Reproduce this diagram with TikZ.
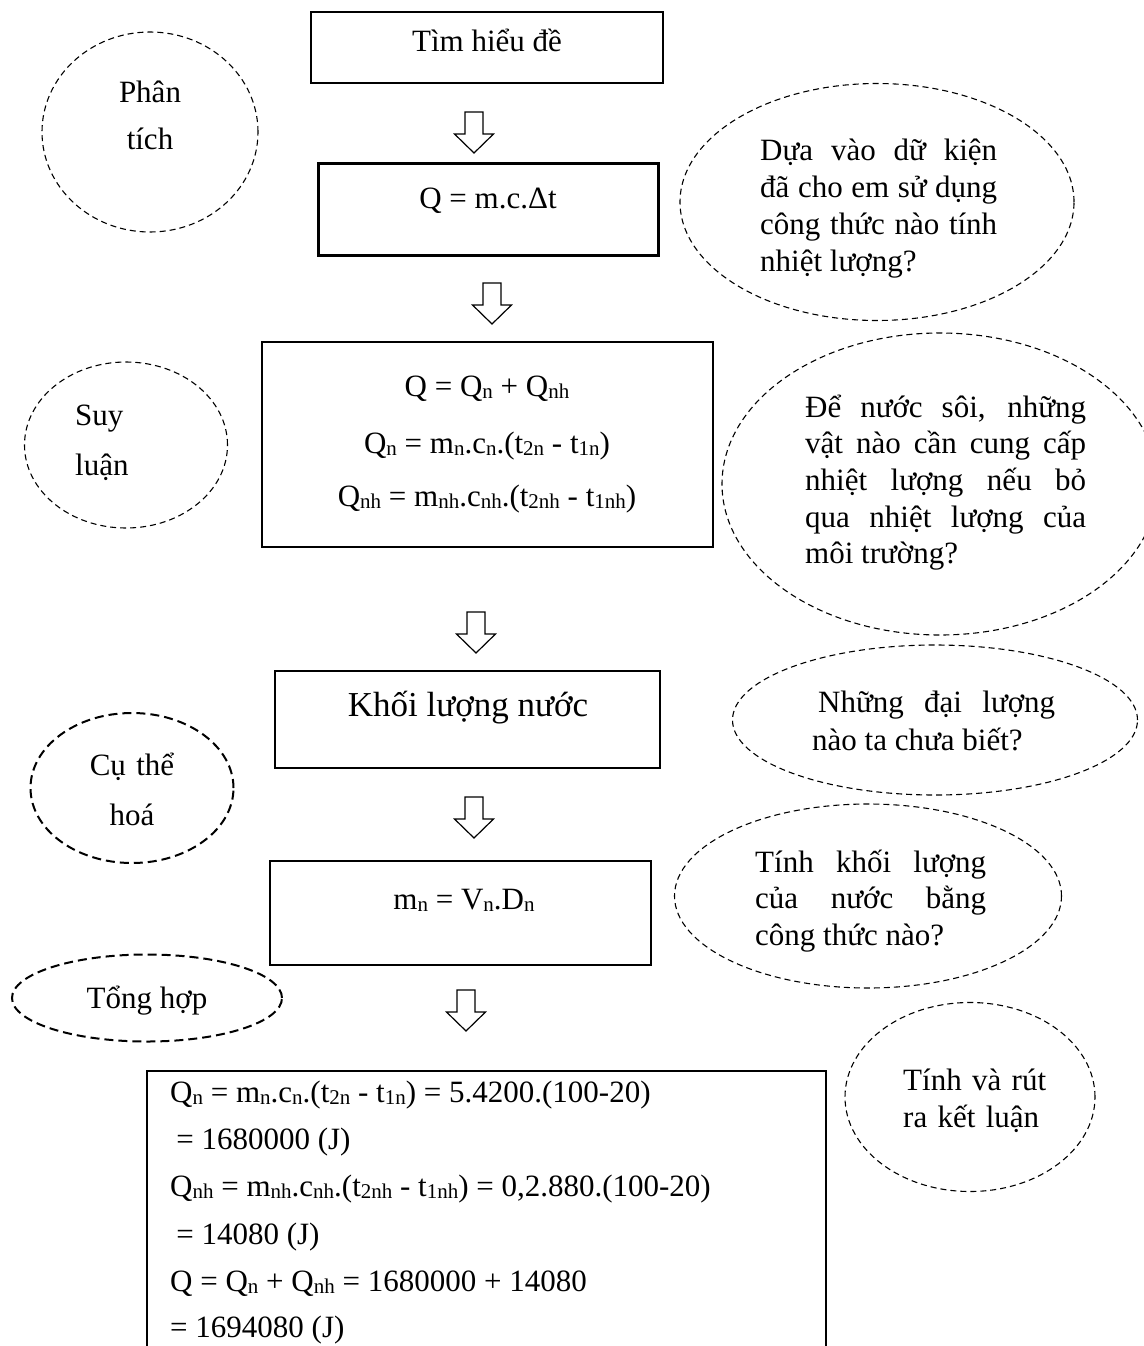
\documentclass[tikz,border=0pt]{standalone}
\usepackage{fontspec}
\setmainfont{Liberation Serif}
\usetikzlibrary{shapes.geometric}

% lowered small subscript, as typed in a word processor
\newcommand\lo[1]{\raisebox{-2.5pt}{\fontsize{21}{21}\selectfont #1}}
% fixes the height of the first line of a text block
\newcommand\firstline{\rule{0pt}{30pt}}
% hollow down arrow hanging from a named coordinate
\newcommand\hollowdown[1]{%
  \draw[hollow] (#1) ++(-9,0) -- ++(18,0) -- ++(0,22) -- ++(10.5,0)
    -- ++(-19.5,19) -- ++(-19.5,-19) -- ++(10.5,0) -- cycle;}

\tikzset{
  box/.style={draw, line width=1.3pt, inner sep=0pt},
  thickbox/.style={draw, line width=3pt, inner sep=0pt},
  bubble/.style={draw, ellipse, inner sep=0pt, line width=1.1pt,
    dash pattern=on 6pt off 4pt},
  boldbubble/.style={bubble, line width=2pt, dash pattern=on 9pt off 5pt},
  txt/.style={inner sep=0pt, font=\fontsize{31}{37}\selectfont},
  para/.style={txt, align=justify, anchor=north west},
  hollow/.style={draw, line width=1.2pt, fill=white, line join=miter},
}

\begin{document}
\begin{tikzpicture}[x=1pt, y=-1pt]
\tolerance=9999
\fill[white] (0,0) rectangle (1143,1346);
\useasboundingbox (0,0) rectangle (1143,1346);

% ---------- main column of boxes ----------
\node[box, minimum width=352, minimum height=71] (b1) at (487,47.5) {};
\node[txt, anchor=base] (t1) at (487,52) {Tìm hiểu đề};

\node[thickbox, minimum width=340, minimum height=92] (b2) at (488,209) {};
\node[txt, anchor=base] (t2) at (488,208) {Q = m.c.Δt};

\node[box, minimum width=451, minimum height=205] (b3) at (487.5,444.5) {};
\node[txt, anchor=base] (t3a) at (487,396) {Q = Q\lo{n} + Q\lo{nh}};
\node[txt, anchor=base] (t3b) at (487,453) {Q\lo{n} = m\lo{n}.c\lo{n}.(t\lo{2n} - t\lo{1n})};
\node[txt, anchor=base] (t3c) at (487,506) {Q\lo{nh} = m\lo{nh}.c\lo{nh}.(t\lo{2nh} - t\lo{1nh})};

\node[box, minimum width=385, minimum height=97] (b4) at (467.5,719.5) {};
\node[txt, anchor=base, font=\fontsize{35}{40}\selectfont] (t4) at (468,716) {Khối lượng nước};

\node[box, minimum width=381, minimum height=104] (b5) at (460.5,913) {};
\node[txt, anchor=base] (t5) at (464,909) {m\lo{n} = V\lo{n}.D\lo{n}};

% last box runs past the lower edge of the page
\node[box, minimum width=679, minimum height=340] (b6) at (486.5,1241) {};
\node[txt, anchor=base west] (t6a) at (170,1102) {Q\lo{n} = m\lo{n}.c\lo{n}.(t\lo{2n} - t\lo{1n}) = 5.4200.(100-20)};
\node[txt, anchor=base west] (t6b) at (170,1149) {\hspace*{0.2em}= 1680000 (J)};
\node[txt, anchor=base west] (t6c) at (170,1196) {Q\lo{nh} = m\lo{nh}.c\lo{nh}.(t\lo{2nh} - t\lo{1nh}) = 0,2.880.(100-20)};
\node[txt, anchor=base west] (t6d) at (170,1244) {\hspace*{0.2em}= 14080 (J)};
\node[txt, anchor=base west] (t6e) at (170,1291) {Q = Q\lo{n} + Q\lo{nh} = 1680000 + 14080};
\node[txt, anchor=base west] (t6f) at (170,1337) {= 1694080 (J)};

% ---------- arrows between the boxes ----------
\coordinate (a1) at (474,112);
\coordinate (a2) at (492,283);
\coordinate (a3) at (476,612);
\coordinate (a4) at (474,797);
\coordinate (a5) at (466,990);
\hollowdown{a1}
\hollowdown{a2}
\hollowdown{a3}
\hollowdown{a4}
\hollowdown{a5}

% ---------- stages on the left ----------
\node[bubble, minimum width=216, minimum height=200] (e1) at (150,132) {};
\node[txt, anchor=north, text width=120, align=center, font=\fontsize{31}{47}\selectfont]
  (s1) at (150,72) {\firstline Phân\\tích};

\node[bubble, minimum width=203, minimum height=166] (e3) at (126,445) {};
\node[txt, anchor=north west, text width=120, align=left, font=\fontsize{31}{50}\selectfont]
  (s3) at (75,395) {\firstline Suy\\luận};

\node[boldbubble, minimum width=203, minimum height=150] (e6) at (132,788) {};
\node[txt, anchor=north, text width=150, align=center, font=\fontsize{31}{50}\selectfont]
  (s6) at (132,745) {\firstline Cụ thể\\hoá};

\node[boldbubble, minimum width=270, minimum height=87] (e8) at (147,998) {};
\node[txt, anchor=base] (s8) at (147,1008) {Tổng hợp};

% ---------- guiding questions on the right ----------
\node[bubble, minimum width=394, minimum height=237] (e2) at (877,202) {};
\node[para, text width=237] (q2) at (760,130)
  {\firstline Dựa vào dữ kiện\linebreak đã cho em sử dụng\linebreak công thức nào tính\linebreak nhiệt lượng?};

\node[bubble, minimum width=436, minimum height=302] (e4) at (940,484) {};
\node[para, text width=281, font=\fontsize{31}{36.6}\selectfont] (q4) at (805,387)
  {\firstline Để nước sôi, những\linebreak vật nào cần cung cấp\linebreak nhiệt lượng nếu bỏ\linebreak qua nhiệt lượng của\linebreak môi trường?};

\node[bubble, minimum width=405, minimum height=150] (e5) at (935,720) {};
\node[para, text width=243, font=\fontsize{31}{38}\selectfont] (q5) at (812,682)
  {\firstline\hspace*{6pt}Những đại lượng\linebreak nào ta chưa biết?};

\node[bubble, minimum width=387, minimum height=184] (e7) at (868,896) {};
\node[para, text width=231, font=\fontsize{31}{36.5}\selectfont] (q7) at (755,842)
  {\firstline Tính khối lượng\linebreak của nước bằng\linebreak công thức nào?};

\node[bubble, minimum width=250, minimum height=189] (e9) at (970,1097) {};
\node[txt, anchor=north west, text width=160, align=left] (q9) at (903,1060)
  {\firstline Tính và rút\\ra kết luận};
\end{tikzpicture}
\end{document}
